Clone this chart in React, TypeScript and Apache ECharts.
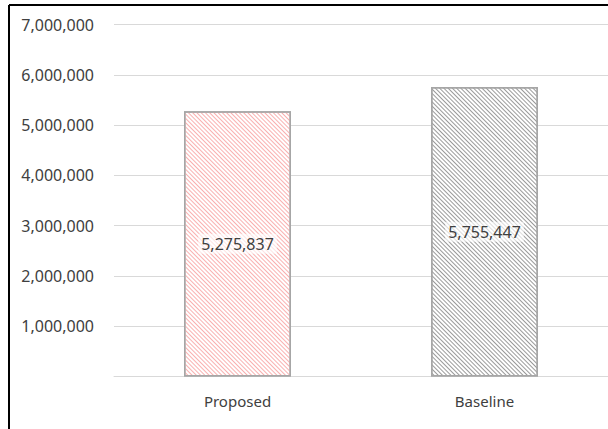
import React, { useEffect, useRef } from "react";
import * as echarts from "echarts";

const categories = ["Proposed", "Baseline"];
const values = [5275837, 5755447];
const barLineColors = ["#F9B0B0", "#9A9A9A"];
const yTicks = [0, 1000000, 2000000, 3000000, 4000000, 5000000, 6000000, 7000000];

const fmt = (v: number) => v.toLocaleString("en-US");

export default function App() {
  const ref = useRef<HTMLDivElement>(null);
  useEffect(() => {
    if (!ref.current) return;
    const chart = echarts.init(ref.current, null, { renderer: "svg" });
    const font = "Noto Sans";
    chart.setOption({
      animation: false,
      backgroundColor: "#ffffff",
      grid: { left: 114, right: 0, top: 24.5, bottom: 52.5, containLabel: false },
      xAxis: {
        type: "category",
        data: categories,
        axisLine: { show: true, lineStyle: { color: "#D9D9D9", width: 1 } },
        axisTick: { show: false },
        axisLabel: { color: "#404040", fontFamily: font, fontSize: 15, margin: 17 },
      },
      yAxis: {
        type: "value",
        min: yTicks[0],
        max: yTicks[yTicks.length - 1],
        interval: 1000000,
        axisLine: { show: false },
        axisTick: { show: false },
        splitLine: { lineStyle: { color: "#D9D9D9", width: 1 } },
        axisLabel: {
          color: "#404040",
          fontFamily: font,
          fontSize: 16,
          margin: 20,
          formatter: (v: number) => (v === 0 ? "" : fmt(v)),
        },
      },
      series: [
        {
          type: "bar",
          barWidth: 107,
          data: values.map((v, i) => ({
            value: v,
            itemStyle: {
              color: "#ffffff",
              borderColor: "#A6A6A6",
              borderWidth: 1.5,
              decal: {
                symbol: "rect",
                color: barLineColors[i],
                dashArrayX: [1, 0],
                dashArrayY: [1, 1.9],
                rotation: Math.PI / 4,
                symbolSize: 1,
              },
            },
          })),
          label: {
            show: true,
            position: "inside",
            color: "#404040",
            fontFamily: font,
            fontSize: 16,
            backgroundColor: "rgba(255,255,255,0.65)",
            padding: [2, 3],
            formatter: (p: any) => fmt(p.value),
          },
        },
      ],
      graphic: [
        { type: "line", shape: { x1: 9, y1: 5, x2: 608, y2: 5 }, style: { stroke: "#000", lineWidth: 2 } },
        { type: "line", shape: { x1: 9, y1: 5, x2: 9, y2: 429 }, style: { stroke: "#000", lineWidth: 2 } },
      ],
    });
    return () => chart.dispose();
  }, []);
  return <div ref={ref} style={{ position: "fixed", left: 0, top: 0, width: 608, height: 429 }} />;
}
